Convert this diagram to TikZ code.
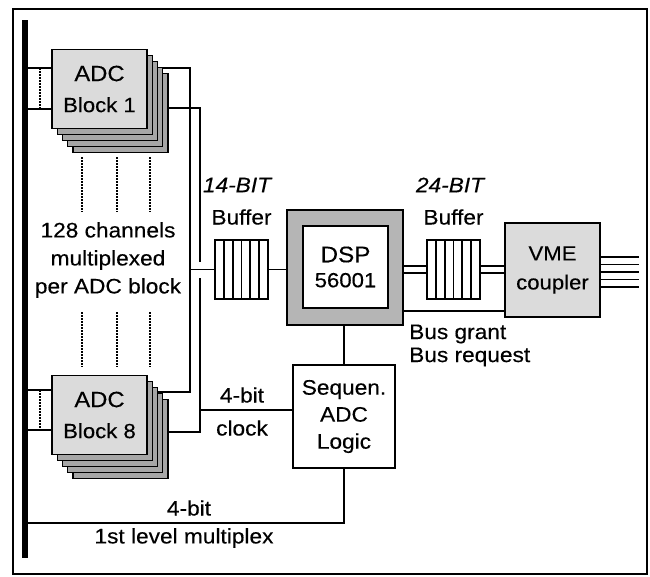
\documentclass[tikz,border=0pt]{standalone}
\usepackage{fontspec}
\setmainfont{Liberation Sans}[FakeStretch=1.08, FakeBold=0.3]
\usetikzlibrary{calc}
\begin{document}
\begin{tikzpicture}[x=1pt,y=-1pt,
  wire/.style={line width=1.8pt},
  dotline/.style={line width=2.2pt, dash pattern=on 1.5pt off 1.5pt},
  lbl/.style={font=\fontsize{21}{28}\selectfont, inner sep=0pt, align=center},
  adcfront/.style={draw, line width=1.6pt, fill=gray!28, minimum width=95pt, minimum height=79pt, inner sep=0pt, align=center, font=\fontsize{22}{33}\selectfont},
  adclayer/.style={draw, line width=1.2pt, fill=gray!70, minimum width=95pt, minimum height=79pt, inner sep=0pt},
  bufbox/.style={draw, line width=1.8pt, fill=white, minimum width=53pt, minimum height=59pt, inner sep=0pt,
    path picture={\foreach \i in {1,...,5}{\draw[line width=1.8pt] ([xshift=\i*8.83pt]path picture bounding box.north west) -- ([xshift=\i*8.83pt]path picture bounding box.south west);}}},
  plainbox/.style={draw, line width=2pt, fill=white, inner sep=0pt, align=center, font=\fontsize{21}{27}\selectfont}
]
\useasboundingbox (0,0) rectangle (650,576);
\fill[white] (0,0) rectangle (650,576);
% frame
\draw[line width=1.5pt] (13,9) rectangle (647,574);
% bus
\coordinate (bustop) at (25,20);
\coordinate (busbot) at (25,558);
\draw[line width=5.5pt] (bustop) -- (busbot);

% ADC block 1 stack
\foreach \k in {4,3,2,1}{
  \node[adclayer] (a1l\k) at ({99.5+5.25*\k},{89+6*\k}) {};
}
\node[adcfront] (adc1) at (99.5,89) {ADC\\[-2pt]{\fontsize{20.5}{33}\selectfont Block 1}};
% ADC block 8 stack
\foreach \k in {4,3,2,1}{
  \node[adclayer] (a8l\k) at ({99.5+5.25*\k},{415+6*\k}) {};
}
\node[adcfront] (adc8) at (99.5,415) {ADC\\[-2pt]{\fontsize{20.5}{33}\selectfont Block 8}};

% left stubs
\draw[wire] (bustop |- 0,68) -- (adc1.west |- 0,68);
\draw[wire] (bustop |- 0,109) -- (adc1.west |- 0,109);
\draw[dotline] (40,68) -- (40,109);
\draw[wire] (bustop |- 0,390) -- (adc8.west |- 0,390);
\draw[wire] (bustop |- 0,430) -- (adc8.west |- 0,430);
\draw[dotline] (40,390) -- (40,430);

% dotted channel columns
\foreach \x in {82,117,150}{
  \draw[dotline] (\x,157) -- (\x,212);
  \draw[dotline] (\x,312) -- (\x,367);
}
\node[lbl] (chan) at (108,260) {128 channels\\multiplexed\\per ADC block};

% buffers, DSP, VME, sequencer
\node[bufbox] (buf1) at (241.5,269.5) {};
\node[lbl] (buf1l) at (241.5,217) {Buffer};
\node[bufbox] (buf2) at (453.5,269.5) {};
\node[lbl] (buf2l) at (453.5,217) {Buffer};
\node[lbl, font=\fontsize{21}{28}\selectfont\itshape] (b14) at (237,185) {14-BIT};
\node[lbl, font=\fontsize{21}{28}\selectfont\itshape] (b24) at (450,185) {24-BIT};

\node[draw, line width=2pt, fill=gray!58, minimum width=116pt, minimum height=115pt, inner sep=0pt] (dsp) at (345,267.5) {};
\node[draw, line width=2pt, fill=white, minimum width=85pt, minimum height=82pt, inner sep=0pt, align=center, font=\fontsize{22.5}{25}\selectfont] (dspin) at (345.5,267) {DSP\\{\fontsize{20.5}{25}\selectfont 56001}};

\node[draw, line width=2pt, fill=gray!28, minimum width=95pt, minimum height=94pt, inner sep=0pt, align=center, font=\fontsize{20.5}{29}\selectfont] (vme) at (552.5,270) {VME\\coupler};

\node[plainbox, minimum width=102pt, minimum height=103pt] (seq) at (344,416.5) {Sequen.\\ADC\\Logic};

% right wires from ADC blocks
\draw[wire] (a1l3.east |- 0,68) -- (190,68) -- (190,392) -- (a8l2.east |- 0,392);
\draw[wire] (a1l4.east |- 0,108) -- (200,108) -- (200,262);
\draw[wire] (200,278) -- (200,432) -- (a8l4.east |- 0,432);
\draw[wire] (190,269.5) -- (buf1.west);
\draw[wire] (buf1.east) -- (buf1.east -| dsp.west);

% 4-bit clock
\draw[wire] (200,410) -- (seq.west |- 0,410);
\node[lbl] (fb1) at (242,395) {4-bit};
\node[lbl] (clk) at (242,428) {clock};

% double lines
\draw[line width=1.6pt, double=white, double distance=5.4pt] (dsp.east |- buf2.west) -- (buf2.west);
\draw[line width=1.6pt, double=white, double distance=5.4pt] (buf2.east) -- (buf2.east -| vme.west);

% VME outputs
\foreach \i in {0,...,4}{
  \draw[wire] (vme.east |- 0,{257+7.5*\i}) -- ++(38,0);
}

% bus grant
\draw[wire] (dsp.east |- 0,311) -- (vme.west |- 0,311);
\node[lbl, anchor=west] (bg) at (409,334) {Bus grant};
\node[lbl, anchor=west] (br) at (409,357) {Bus request};

% DSP to sequencer
\draw[wire] (dsp.south -| seq.north) -- (seq.north);
% sequencer to bus
\draw[wire] (seq.south) -- (seq.south |- 0,523) -- (bustop |- 0,523);
\node[lbl] (fb2) at (189,508) {4-bit};
\node[lbl] (mux) at (184,538) {1st level multiplex};
\end{tikzpicture}
\end{document}
